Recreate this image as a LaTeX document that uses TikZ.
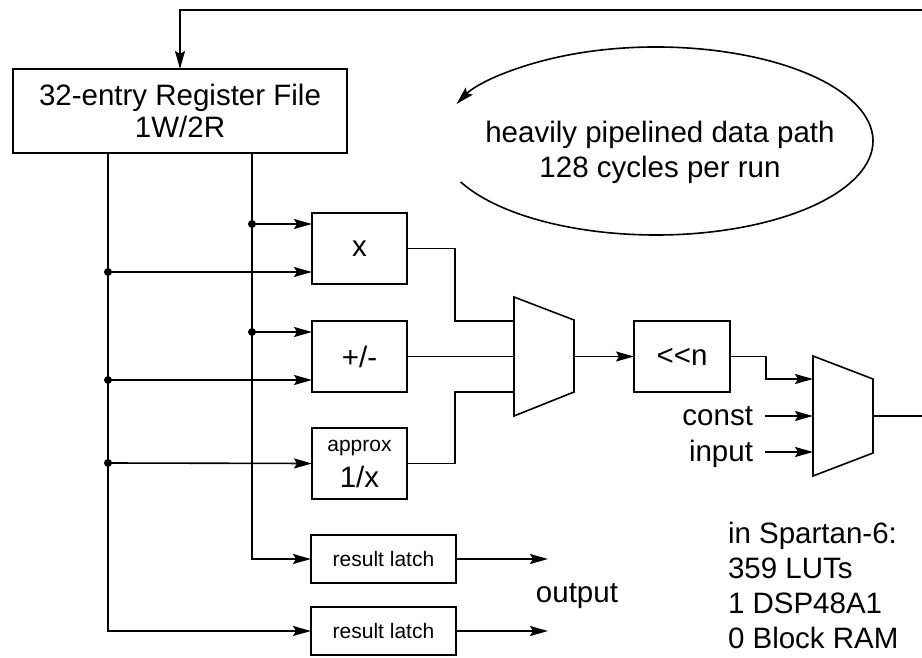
\documentclass[tikz,border=0pt]{standalone}
\usepackage{fontspec}
\setmainfont{Liberation Sans}
\usetikzlibrary{arrows.meta}
\newcommand\fbig{\fontsize{29.5}{35}\selectfont}
\newcommand\fsmall{\fontsize{21}{24}\selectfont}
\begin{document}
\begin{tikzpicture}[x=1pt,y=-1pt,
  every node/.style={inner sep=0pt, outer sep=0pt},
  wire/.style={line width=1.6pt},
  arr/.style={line width=1.6pt, -{Stealth[length=18pt,width=10pt,inset=3pt]}},
  blk/.style={draw, line width=1.6pt, minimum width=95pt, minimum height=71pt, font=\fbig},
  latchbox/.style={draw, line width=1.6pt, minimum width=145pt, minimum height=48pt, font=\fsmall},
  lbl/.style={font=\fbig},
  dot/.style={fill=black, draw=none, minimum size=8pt, circle}
]
\useasboundingbox (0,0) rectangle (922,658);

% register file
\node[draw, line width=1.6pt, minimum width=334pt, minimum height=84pt, align=center,
      font=\fontsize{29.5}{32}\selectfont] (reg) at (180,111) {32-entry Register File\\1W/2R};

% feedback from the right
\coordinate (fbR) at (922,10);
\coordinate (fbC) at (180,10);
\draw[arr] (fbR) -- (fbC) -- (reg.north);

% ellipse annotation
\coordinate (ellS) at (460.6,181.9);
\draw[arr] (ellS) arc[start angle=154.2, end angle=-156.8, x radius=217, y radius=94];
\node[lbl, align=center] (elltxt) at (660,152) {heavily pipelined data path\\128 cycles per run};

% functional units
\node[blk] (mul) at (359.5,248.5) {x};
\node[blk] (add) at (359.5,356.5) {+/-};
\node[blk] (rcp) at (359.5,463.5) {};
\node[font=\fsmall, anchor=base] (rcpa) at (359.5,451) {approx};
\node[font=\fbig, anchor=base] (rcpb) at (359.5,487) {1/x};

% result latches
\node[latchbox] (latch1) at (383.5,559) {result latch};
\node[latchbox] (latch2) at (383.5,631) {result latch};

% buses
\coordinate (lbTop) at (108,153);
\coordinate (rbTop) at (252,153);
\draw[arr] (rbTop) |- (latch1.west);
\draw[arr] (lbTop) |- (latch2.west);

% taps on the buses
\node[dot] (d1) at (252,224) {};
\node[dot] (d2) at (108,272) {};
\node[dot] (d3) at (252,332) {};
\node[dot] (d4) at (108,380) {};
\node[dot] (d5) at (108,463) {};
\draw[arr] (d1.center) -- (d1.center -| mul.west);
\draw[arr] (d2.center) -- (d2.center -| mul.west);
\draw[arr] (d3.center) -- (d3.center -| add.west);
\draw[arr] (d4.center) -- (d4.center -| add.west);
\draw[arr] (d5.center) -- (rcp.west);

% first mux
\draw[wire] (514,297) -- (574,320) -- (574,392) -- (514,416) -- cycle;
\coordinate (m1a) at (514,321);
\coordinate (m1b) at (514,356.5);
\coordinate (m1c) at (514,392);
\coordinate (m1o) at (574,356.5);
\draw[wire] (mul.east) -- ++(48,0) |- (m1a);
\draw[wire] (add.east) -- (m1b);
\draw[wire] (rcp.east) -- ++(48,0) |- (m1c);

% shifter
\node[blk, minimum width=96pt] (shift) at (682,356.5) {<{}<n};
\draw[arr] (m1o) -- (shift.west);

% second mux
\draw[wire] (813,356) -- (873,379) -- (873,453) -- (813,476) -- cycle;
\coordinate (m2a) at (813,379);
\coordinate (m2b) at (813,416);
\coordinate (m2c) at (813,452);
\coordinate (m2o) at (873,416);
\draw[arr] (shift.east) -- ++(36,0) |- (m2a);
\node[lbl, anchor=base east] (const) at (753,425) {const};
\node[lbl, anchor=base east] (input) at (753,461) {input};
\coordinate (cs) at (765,416);
\coordinate (is) at (765,452);
\draw[arr] (cs) -- (m2b);
\draw[arr] (is) -- (m2c);
\coordinate (outR) at (922,416);
\draw[wire] (m2o) -- (outR);

% outputs
\coordinate (o1) at (548,559);
\coordinate (o2) at (548,631);
\draw[arr] (latch1.east) -- (o1);
\draw[arr] (latch2.east) -- (o2);
\node[lbl, anchor=base] (outlbl) at (577,602) {output};

% resources
\node[anchor=west, align=left, font=\fontsize{29.5}{35}\selectfont] (res) at (728,585)
  {in Spartan-6:\\359 LUTs\\1 DSP48A1\\0 Block RAM};
\end{tikzpicture}
\end{document}
